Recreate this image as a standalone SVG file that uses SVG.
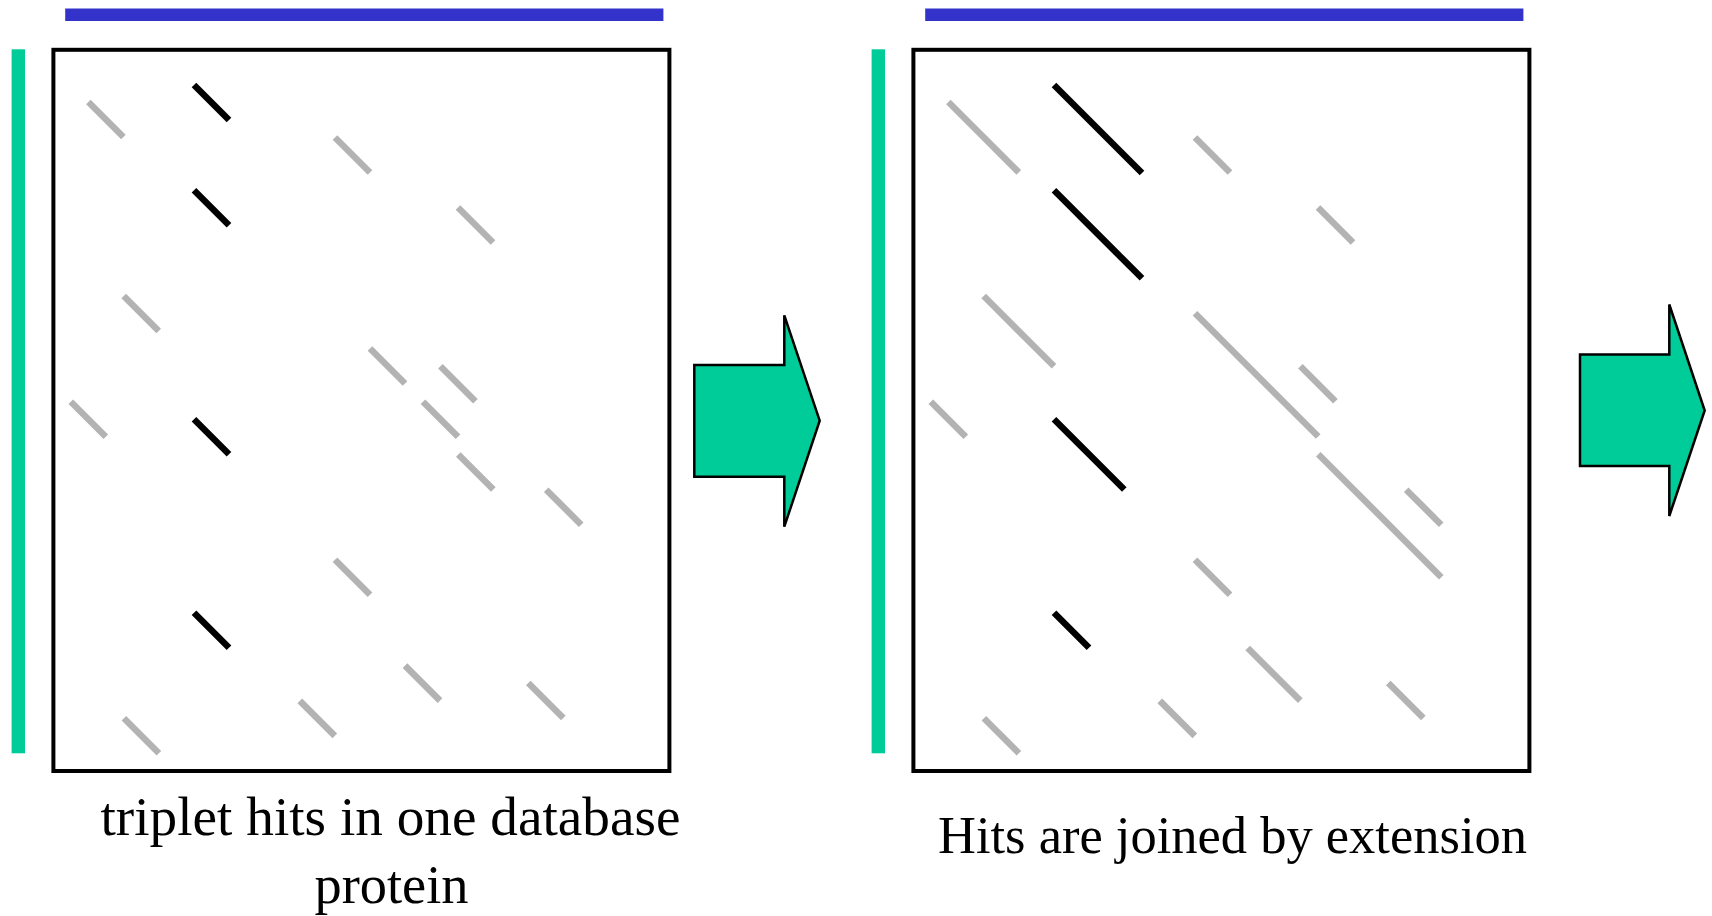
<svg xmlns="http://www.w3.org/2000/svg" width="1712" height="916" viewBox="0 0 1712 916">
<style>
.blue{fill:#3333CC}
.green{fill:#00CC99}
.box{fill:#FFFFFF;stroke:#000000;stroke-width:4}
.hit{stroke:#000000;stroke-width:6.5;stroke-linecap:butt;fill:none}
.bg{stroke:#B3B3B3;stroke-width:6.5;stroke-linecap:butt;fill:none}
.arrow{fill:#00CC99;stroke:#000000;stroke-width:2.5;stroke-linejoin:miter}
.lbl{font-family:"Liberation Serif","Times New Roman",serif;fill:#000000;text-anchor:middle}
</style>
<rect width="1712" height="916" fill="#FFFFFF"/>

<g id="panel1">
  <rect class="blue" x="65.2" y="8.5" width="598.2" height="12.5"/>
  <rect class="green" x="11.6" y="49.3" width="13.4" height="704"/>
  <rect class="box" x="53.4" y="49.8" width="616" height="721.2"/>
  <g id="panel1-hits">
    <line class="bg" x1="88.4" y1="102" x2="123.4" y2="137"/>
    <line class="bg" x1="335" y1="137.5" x2="370" y2="172.5"/>
    <line class="bg" x1="458" y1="207.5" x2="493" y2="242.5"/>
    <line class="bg" x1="123.7" y1="296" x2="158.7" y2="331"/>
    <line class="bg" x1="370" y1="348.5" x2="405" y2="383.5"/>
    <line class="bg" x1="440.4" y1="366.2" x2="475.4" y2="401.2"/>
    <line class="bg" x1="70.8" y1="401.7" x2="105.8" y2="436.7"/>
    <line class="bg" x1="423" y1="401.7" x2="458" y2="436.7"/>
    <line class="bg" x1="458.3" y1="454.5" x2="493.3" y2="489.5"/>
    <line class="bg" x1="546.2" y1="489.7" x2="581.2" y2="524.7"/>
    <line class="bg" x1="335" y1="559.7" x2="370" y2="594.7"/>
    <line class="bg" x1="405" y1="665.6" x2="440" y2="700.6"/>
    <line class="bg" x1="528.3" y1="683" x2="563.3" y2="718"/>
    <line class="bg" x1="299.8" y1="700.9" x2="334.8" y2="735.9"/>
    <line class="bg" x1="123.9" y1="718.3" x2="158.9" y2="753.3"/>
    <line class="hit" x1="194" y1="85" x2="229" y2="120"/>
    <line class="hit" x1="194" y1="190.3" x2="229" y2="225.3"/>
    <line class="hit" x1="194" y1="419.2" x2="229" y2="454.2"/>
    <line class="hit" x1="194" y1="612.8" x2="229" y2="647.8"/>
  </g>
  <text class="lbl" x="390.5" y="835" font-size="54.5" textLength="580" lengthAdjust="spacingAndGlyphs">triplet hits in one database</text>
  <text class="lbl" x="391.5" y="903" font-size="54.5" textLength="154" lengthAdjust="spacingAndGlyphs">protein</text>
</g>

<g id="panel2">
  <rect class="blue" x="925.2" y="8.5" width="598.2" height="12.5"/>
  <rect class="green" x="871.6" y="49.3" width="13.4" height="704"/>
  <rect class="box" x="913.4" y="49.8" width="616" height="721.2"/>
  <g id="panel2-hits">
    <line class="bg" x1="948.4" y1="102" x2="1018.8" y2="172.4"/>
    <line class="bg" x1="1195" y1="137.5" x2="1230" y2="172.5"/>
    <line class="bg" x1="1318" y1="207.5" x2="1353" y2="242.5"/>
    <line class="bg" x1="983.7" y1="296" x2="1054" y2="366.3"/>
    <line class="bg" x1="1195" y1="313.3" x2="1318.2" y2="436.5"/>
    <line class="bg" x1="1300.4" y1="366.2" x2="1335.4" y2="401.2"/>
    <line class="bg" x1="930.8" y1="401.7" x2="965.8" y2="436.7"/>
    <line class="bg" x1="1318.3" y1="454.2" x2="1441.3" y2="577.2"/>
    <line class="bg" x1="1406.2" y1="489.7" x2="1441.2" y2="524.7"/>
    <line class="bg" x1="1195" y1="559.7" x2="1230" y2="594.7"/>
    <line class="bg" x1="1247.7" y1="648" x2="1300.3" y2="700.6"/>
    <line class="bg" x1="1388.3" y1="683" x2="1423.3" y2="718"/>
    <line class="bg" x1="1159.8" y1="700.9" x2="1194.8" y2="735.9"/>
    <line class="bg" x1="983.9" y1="718.3" x2="1018.9" y2="753.3"/>
    <line class="hit" x1="1054" y1="85" x2="1142" y2="173"/>
    <line class="hit" x1="1054" y1="190.3" x2="1142" y2="278.3"/>
    <line class="hit" x1="1054" y1="419.2" x2="1124.3" y2="489.5"/>
    <line class="hit" x1="1054" y1="612.8" x2="1089" y2="647.8"/>
  </g>
  <text class="lbl" x="1232.5" y="852.7" font-size="52.5" textLength="589" lengthAdjust="spacingAndGlyphs">Hits are joined by extension</text>
</g>

<g id="connectors">
  <polygon class="arrow" points="694.3,365 784.3,365 784.3,315.3 819.7,420.7 784.3,526.7 784.3,476.7 694.3,476.7"/>
  <polygon class="arrow" points="1580,354.5 1669.3,354.5 1669.3,304.5 1704.7,410.5 1669.3,516 1669.3,466 1580,466"/>
</g>
</svg>
